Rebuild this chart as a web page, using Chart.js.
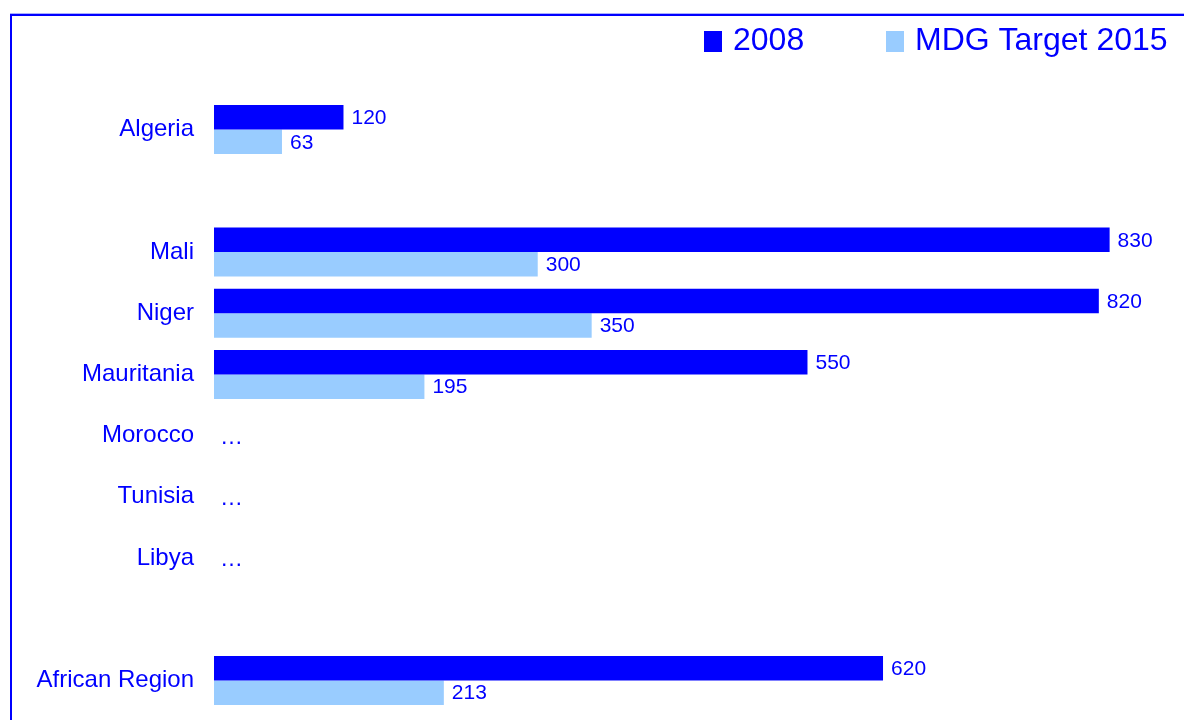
<!DOCTYPE html>
<html>
<head>
<meta charset="utf-8">
<script src="https://cdn.jsdelivr.net/npm/chart.js@4/dist/chart.umd.min.js"></script>
<style>
    html, body { margin: 0; padding: 0; background: #ffffff; }
    #wrap { width: 1184px; height: 720px; position: relative; }
</style>
</head>
<body>
<div id="wrap"><canvas id="mmr" width="1184" height="720"></canvas></div>
<script>
// categories ('' = empty spacer rows)
var countries = ['Algeria', '', 'Mali', 'Niger', 'Mauritania', 'Morocco', 'Tunisia', 'Libya', '', 'African Region'];
var values2008 = [120, null, 830, 820, 550, null, null, null, null, 620];
var valuesTarget = [63, null, 300, 350, 195, null, null, null, null, 213];
var seriesNames = ['2008', 'MDG Target 2015'];
var missingMark = '\u2026';

var blue = '#0000ff';
var lightBlue = '#99ccff';
var fontFamily = '"Liberation Sans", Arial, sans-serif';

Chart.defaults.font.family = fontFamily;

// frame lines (top + left) like the cropped slide border
const framePlugin = {
    id: 'frame',
    beforeDraw(chart) {
        let ctx = chart.ctx;
        ctx.save();
        ctx.fillStyle = '#aab0ff';
        ctx.fillRect(10, 13, 1174, 1);
        ctx.fillStyle = blue;
        ctx.fillRect(10, 14, 1174, 2);
        ctx.fillRect(10, 14, 2, 706);
        ctx.restore();
    }
};

// value labels at the bar ends, "..." where there is no data
const valueLabels = {
    id: 'valueLabels',
    afterDatasetsDraw(chart) {
        let ctx = chart.ctx;
        ctx.save();
        ctx.font = '21px ' + fontFamily;
        ctx.fillStyle = blue;
        ctx.textBaseline = 'middle';
        ctx.textAlign = 'left';
        chart.data.datasets.forEach(function (ds, di) {
            let meta = chart.getDatasetMeta(di);
            meta.data.forEach(function (bar, i) {
                if (ds.data[i] == null) return;
                ctx.fillText(String(ds.data[i]), bar.x + 8, bar.y + 1);
            });
        });
        let yScale = chart.scales.y;
        ctx.font = '23px ' + fontFamily;
        for (let i = 0; i < countries.length; i++) {
            if (countries[i] != '' && values2008[i] == null && valuesTarget[i] == null) {
                ctx.fillText(missingMark, chart.chartArea.left + 6, yScale.getPixelForValue(i) + 2);
            }
        }
        ctx.restore();
    }
};

// legend drawn top-right
const topLegend = {
    id: 'topLegend',
    afterDraw(chart) {
        let ctx = chart.ctx;
        let boxX = [704, 886];
        ctx.save();
        ctx.font = '32px ' + fontFamily;
        ctx.textBaseline = 'alphabetic';
        chart.data.datasets.forEach(function (ds, di) {
            ctx.fillStyle = ds.backgroundColor;
            ctx.fillRect(boxX[di], 31, 18, 21);
            ctx.fillStyle = blue;
            ctx.fillText(ds.label, boxX[di] + 29, 50);
        });
        ctx.restore();
    }
};

const config = {
    type: 'bar',
    data: {
        labels: countries,
        datasets: [{
            label: seriesNames[0],
            data: values2008,
            backgroundColor: blue,
            categoryPercentage: 0.8,
            barPercentage: 1.0
        }, {
            label: seriesNames[1],
            data: valuesTarget,
            backgroundColor: lightBlue,
            categoryPercentage: 0.8,
            barPercentage: 1.0
        }]
    },
    options: {
        indexAxis: 'y',
        responsive: false,
        animation: false,
        layout: {
            padding: { top: 99, bottom: 9, left: 0, right: 1 }
        },
        scales: {
            x: {
                display: false,
                min: 0,
                max: 898
            },
            y: {
                grid: { display: false },
                border: { display: false },
                ticks: {
                    color: blue,
                    padding: 12,
                    font: { size: 24 }
                },
                afterFit: function (scale) {
                    scale.width = 214;
                    scale.paddingTop = 0;
                    scale.paddingBottom = 0;
                }
            }
        },
        plugins: {
            legend: { display: false },
            title: { display: false },
            tooltip: { enabled: false }
        }
    },
    plugins: [framePlugin, valueLabels, topLegend]
};

var mmrChart = new Chart(document.getElementById('mmr').getContext('2d'), config);
</script>
</body>
</html>
